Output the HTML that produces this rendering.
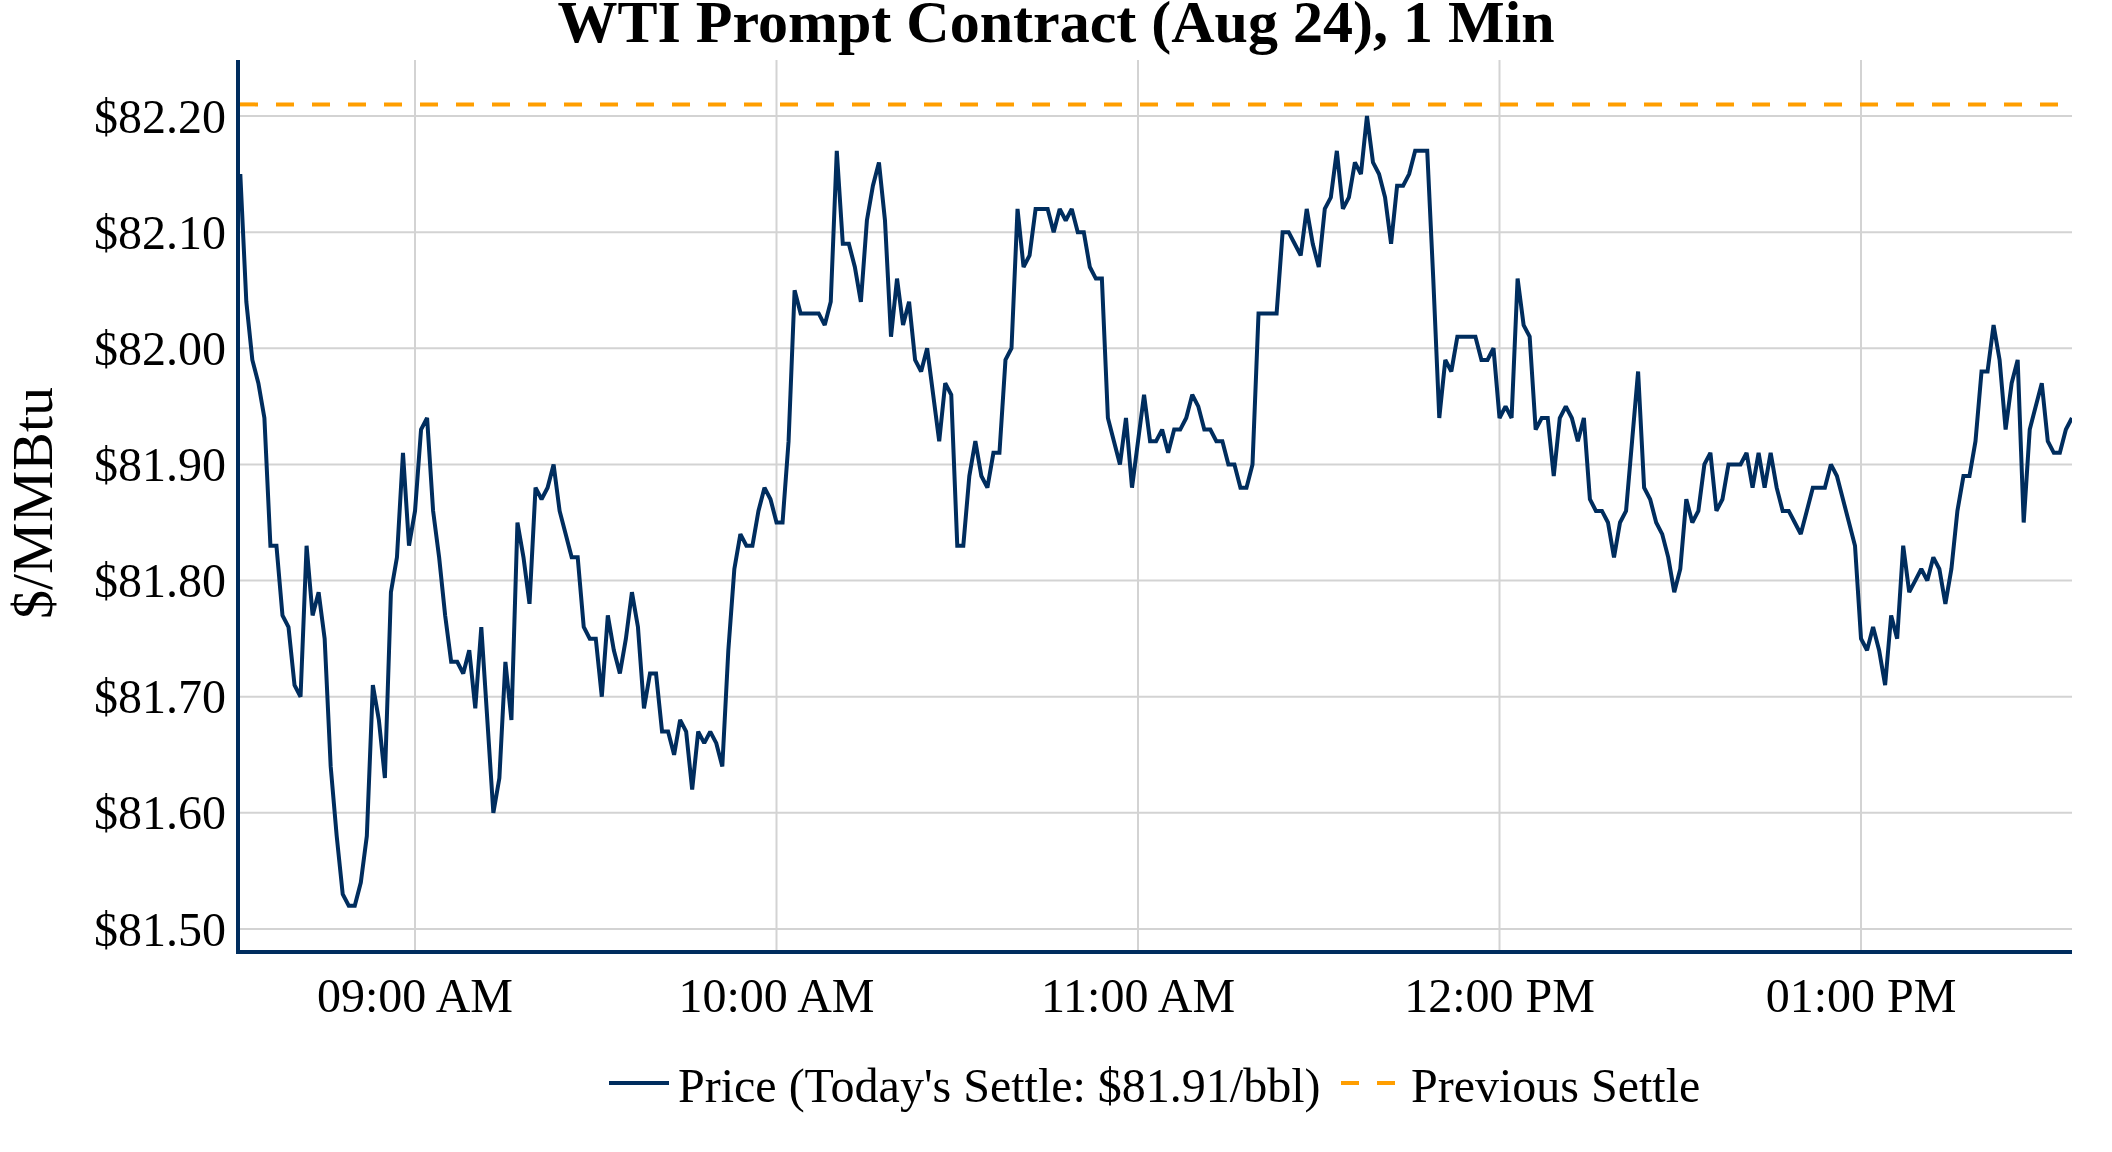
<!DOCTYPE html>
<html><head><meta charset="utf-8"><style>
html,body{margin:0;padding:0;background:#fff;}
svg{display:block;will-change:transform;}
text{font-family:"Liberation Serif",serif;fill:#000;}
</style></head><body>
<svg width="2112" height="1152" viewBox="0 0 2112 1152">
<rect x="0" y="0" width="2112" height="1152" fill="#fff"/>
<g stroke="#d3d3d3" stroke-width="2"><line x1="240" y1="116.00" x2="2072" y2="116.00"/><line x1="240" y1="232.14" x2="2072" y2="232.14"/><line x1="240" y1="348.29" x2="2072" y2="348.29"/><line x1="240" y1="464.43" x2="2072" y2="464.43"/><line x1="240" y1="580.57" x2="2072" y2="580.57"/><line x1="240" y1="696.72" x2="2072" y2="696.72"/><line x1="240" y1="812.86" x2="2072" y2="812.86"/><line x1="240" y1="929.00" x2="2072" y2="929.00"/><line x1="415.00" y1="60" x2="415.00" y2="950"/><line x1="776.50" y1="60" x2="776.50" y2="950"/><line x1="1138.00" y1="60" x2="1138.00" y2="950"/><line x1="1499.50" y1="60" x2="1499.50" y2="950"/><line x1="1861.00" y1="60" x2="1861.00" y2="950"/></g>
<line x1="240" y1="104.39" x2="2072" y2="104.39" stroke="#ff9e00" stroke-width="4" stroke-dasharray="18,18"/>
<svg x="240" y="60" width="1832" height="890" viewBox="240 60 1832 890" overflow="hidden"><polyline points="240.30,174.07 246.33,301.83 252.35,359.90 258.38,383.13 264.40,417.97 270.43,545.73 276.45,545.73 282.48,615.41 288.50,627.03 294.53,685.10 300.55,696.72 306.58,545.73 312.60,615.41 318.62,592.19 324.65,638.64 330.68,766.40 336.70,836.09 342.73,894.16 348.75,905.77 354.78,905.77 360.80,882.54 366.83,836.09 372.85,685.10 378.88,719.94 384.90,778.02 390.93,592.19 396.95,557.34 402.98,452.81 409.00,545.73 415.03,510.89 421.05,429.59 427.08,417.97 433.10,510.89 439.12,557.34 445.15,615.41 451.18,661.87 457.20,661.87 463.23,673.49 469.25,650.26 475.28,708.33 481.30,627.03 487.33,719.94 493.35,812.86 499.38,778.02 505.40,661.87 511.43,719.94 517.45,522.50 523.48,557.34 529.50,603.80 535.53,487.66 541.55,499.27 547.58,487.66 553.60,464.43 559.62,510.89 565.65,534.11 571.67,557.34 577.70,557.34 583.73,627.03 589.75,638.64 595.78,638.64 601.80,696.72 607.83,615.41 613.85,650.26 619.88,673.49 625.90,638.64 631.92,592.19 637.95,627.03 643.98,708.33 650.00,673.49 656.03,673.49 662.05,731.56 668.08,731.56 674.10,754.79 680.12,719.94 686.15,731.56 692.17,789.63 698.20,731.56 704.23,743.17 710.25,731.56 716.28,743.17 722.30,766.40 728.33,650.26 734.35,568.96 740.38,534.11 746.40,545.73 752.42,545.73 758.45,510.89 764.48,487.66 770.50,499.27 776.53,522.50 782.55,522.50 788.58,441.20 794.60,290.21 800.62,313.44 806.65,313.44 812.67,313.44 818.70,313.44 824.73,325.06 830.75,301.83 836.78,150.84 842.80,243.76 848.83,243.76 854.85,266.99 860.88,301.83 866.90,220.53 872.92,185.69 878.95,162.46 884.98,220.53 891.00,336.67 897.03,278.60 903.05,325.06 909.08,301.83 915.10,359.90 921.12,371.51 927.15,348.29 933.17,394.74 939.20,441.20 945.23,383.13 951.25,394.74 957.28,545.73 963.30,545.73 969.33,476.04 975.35,441.20 981.38,476.04 987.40,487.66 993.42,452.81 999.45,452.81 1005.48,359.90 1011.50,348.29 1017.53,208.91 1023.55,266.99 1029.58,255.37 1035.60,208.91 1041.62,208.91 1047.65,208.91 1053.67,232.14 1059.70,208.91 1065.73,220.53 1071.75,208.91 1077.78,232.14 1083.80,232.14 1089.83,266.99 1095.85,278.60 1101.88,278.60 1107.90,417.97 1113.92,441.20 1119.95,464.43 1125.98,417.97 1132.00,487.66 1138.03,441.20 1144.05,394.74 1150.08,441.20 1156.10,441.20 1162.12,429.59 1168.15,452.81 1174.17,429.59 1180.20,429.59 1186.23,417.97 1192.25,394.74 1198.28,406.36 1204.30,429.59 1210.33,429.59 1216.35,441.20 1222.38,441.20 1228.40,464.43 1234.43,464.43 1240.45,487.66 1246.48,487.66 1252.50,464.43 1258.53,313.44 1264.55,313.44 1270.58,313.44 1276.60,313.44 1282.62,232.14 1288.65,232.14 1294.67,243.76 1300.70,255.37 1306.72,208.91 1312.75,243.76 1318.78,266.99 1324.80,208.91 1330.83,197.30 1336.85,150.84 1342.88,208.91 1348.90,197.30 1354.92,162.46 1360.95,174.07 1366.97,116.00 1373.00,162.46 1379.03,174.07 1385.05,197.30 1391.08,243.76 1397.10,185.69 1403.12,185.69 1409.15,174.07 1415.17,150.84 1421.20,150.84 1427.23,150.84 1433.25,278.60 1439.28,417.97 1445.30,359.90 1451.33,371.51 1457.35,336.67 1463.38,336.67 1469.40,336.67 1475.42,336.67 1481.45,359.90 1487.48,359.90 1493.50,348.29 1499.53,417.97 1505.55,406.36 1511.58,417.97 1517.60,278.60 1523.62,325.06 1529.65,336.67 1535.67,429.59 1541.70,417.97 1547.73,417.97 1553.75,476.04 1559.78,417.97 1565.80,406.36 1571.83,417.97 1577.85,441.20 1583.88,417.97 1589.90,499.27 1595.92,510.89 1601.95,510.89 1607.98,522.50 1614.00,557.34 1620.03,522.50 1626.05,510.89 1632.08,441.20 1638.10,371.51 1644.12,487.66 1650.15,499.27 1656.17,522.50 1662.20,534.11 1668.23,557.34 1674.25,592.19 1680.28,568.96 1686.30,499.27 1692.33,522.50 1698.35,510.89 1704.38,464.43 1710.40,452.81 1716.42,510.89 1722.45,499.27 1728.48,464.43 1734.50,464.43 1740.53,464.43 1746.55,452.81 1752.58,487.66 1758.60,452.81 1764.62,487.66 1770.65,452.81 1776.67,487.66 1782.70,510.89 1788.73,510.89 1794.75,522.50 1800.78,534.11 1806.80,510.89 1812.83,487.66 1818.85,487.66 1824.88,487.66 1830.90,464.43 1836.92,476.04 1842.95,499.27 1848.98,522.50 1855.00,545.73 1861.03,638.64 1867.05,650.26 1873.08,627.03 1879.10,650.26 1885.12,685.10 1891.15,615.41 1897.17,638.64 1903.20,545.73 1909.23,592.19 1915.25,580.57 1921.28,568.96 1927.30,580.57 1933.33,557.34 1939.35,568.96 1945.38,603.80 1951.40,568.96 1957.42,510.89 1963.45,476.04 1969.48,476.04 1975.50,441.20 1981.53,371.51 1987.55,371.51 1993.58,325.06 1999.60,359.90 2005.62,429.59 2011.65,383.13 2017.67,359.90 2023.70,522.50 2029.73,429.59 2035.75,406.36 2041.78,383.13 2047.80,441.20 2053.83,452.81 2059.85,452.81 2065.88,429.59 2071.90,417.97" fill="none" stroke="#002d5e" stroke-width="4" stroke-linejoin="miter" stroke-miterlimit="2"/></svg>
<line x1="238" y1="60" x2="238" y2="954" stroke="#002d5e" stroke-width="4"/>
<line x1="236" y1="952" x2="2072" y2="952" stroke="#002d5e" stroke-width="4"/>
<text x="226" y="132.60" font-size="48" text-anchor="end">$82.20</text>
<text x="226" y="248.74" font-size="48" text-anchor="end">$82.10</text>
<text x="226" y="364.89" font-size="48" text-anchor="end">$82.00</text>
<text x="226" y="481.03" font-size="48" text-anchor="end">$81.90</text>
<text x="226" y="597.17" font-size="48" text-anchor="end">$81.80</text>
<text x="226" y="713.32" font-size="48" text-anchor="end">$81.70</text>
<text x="226" y="829.46" font-size="48" text-anchor="end">$81.60</text>
<text x="226" y="945.60" font-size="48" text-anchor="end">$81.50</text>
<text x="415.00" y="1011.7" font-size="48" text-anchor="middle">09:00 AM</text>
<text x="776.50" y="1011.7" font-size="48" text-anchor="middle">10:00 AM</text>
<text x="1138.00" y="1011.7" font-size="48" text-anchor="middle">11:00 AM</text>
<text x="1499.50" y="1011.7" font-size="48" text-anchor="middle">12:00 PM</text>
<text x="1861.00" y="1011.7" font-size="48" text-anchor="middle">01:00 PM</text>
<text x="1056" y="42" font-size="60" font-weight="bold" text-anchor="middle">WTI Prompt Contract (Aug 24), 1 Min</text>
<text transform="translate(52,503) rotate(-90)" x="0" y="0" font-size="58" text-anchor="middle">$/MMBtu</text>
<line x1="609" y1="1083" x2="669" y2="1083" stroke="#002d5e" stroke-width="4"/>
<text x="678" y="1101.7" font-size="48">Price (Today's Settle: $81.91/bbl)</text>
<line x1="1341" y1="1083" x2="1401" y2="1083" stroke="#ff9e00" stroke-width="4" stroke-dasharray="18,18"/>
<text x="1411" y="1101.7" font-size="48">Previous Settle</text>
</svg>
</body></html>
